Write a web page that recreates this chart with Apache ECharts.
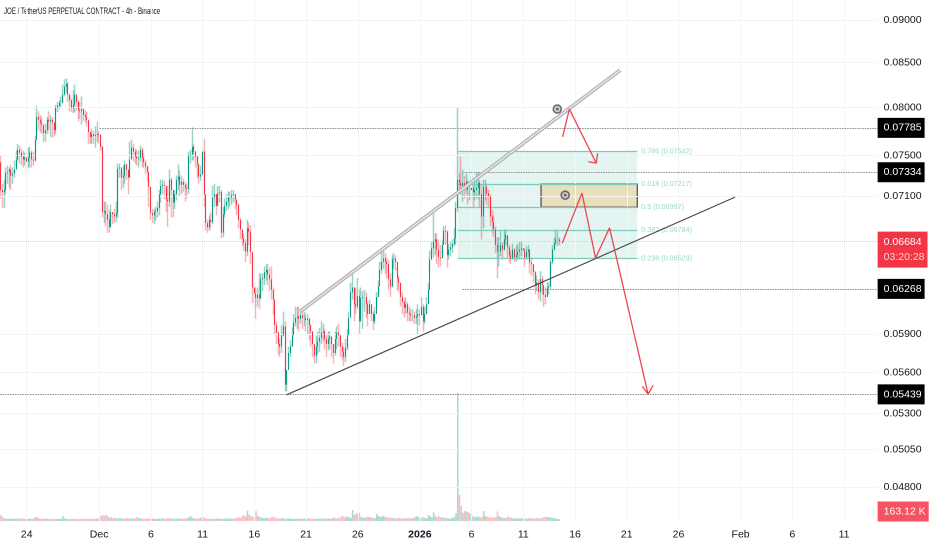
<!DOCTYPE html>
<html><head><meta charset="utf-8">
<style>html,body{margin:0;padding:0;background:#fff}#c{width:932px;height:550px}</style>
<script src="https://cdn.jsdelivr.net/npm/echarts@6/dist/echarts.min.js"></script>
</head><body><div id="c"></div>
<script>
const title = "JOE / TetherUS PERPETUAL CONTRACT - 4h - Binance";
const firstOpen = .0743;
const closes = [
.0716,.0714,.0716,.0733,.0734,.0736,.0730,.0732,.0736,.0746,
.0756,.0753,.0749,.0746,.0748,.0744,.0748,.0753,.0746,.0745,
.0766,.0790,.0787,.0784,.0782,.0773,.0776,.0787,.0785,.0787,
.0784,.0776,.0800,.0802,.0805,.0805,.0814,.0823,.0826,.0814,
.0808,.0800,.0803,.0814,.0806,.0798,.0796,.0798,.0792,.0790,
.0787,.0774,.0769,.0772,.0770,.0771,.0772,.0771,.0759,.0695,
.0696,.0693,.0688,.0681,.0695,.0693,.0691,.0694,.0737,.0738,
.0728,.0730,.0741,.0736,.0728,.0746,.0758,.0754,.0749,.0747,
.0748,.0756,.0748,.0743,.0739,.0734,.0719,.0694,.0692,.0695,
.0696,.0699,.0712,.0720,.0721,.0720,.0707,.0705,.0726,.0716,
.0704,.0712,.0726,.0729,.0721,.0724,.0721,.0718,.0717,.0750,
.0751,.0759,.0754,.0749,.0741,.0729,.0731,.0754,.0712,.0685,
.0681,.0688,.0686,.0709,.0712,.0701,.0713,.0714,.0676,.0693,
.0701,.0705,.0709,.0709,.0711,.0712,.0707,.0702,.0688,.0679,
.0671,.0667,.0659,.0680,.0677,.0659,.0628,.0623,.0619,.0622,
.0619,.0635,.0636,.0641,.0643,.0639,.0635,.0626,.0618,.0597,
.0591,.0582,.0580,.0589,.0596,.0551,.0562,.0575,.0580,.0589,
.0599,.0603,.0604,.0602,.0605,.0603,.0603,.0601,.0602,.0597,
.0592,.0582,.0573,.0580,.0584,.0587,.0591,.0592,.0586,.0582,
.0586,.0588,.0582,.0575,.0586,.0591,.0589,.0580,.0576,.0572,
.0579,.0589,.0603,.0624,.0628,.0614,.0612,.0621,.0600,.0619,
.0620,.0620,.0614,.0606,.0614,.0606,.0600,.0606,.0620,.0629,
.0643,.0650,.0653,.0650,.0648,.0635,.0629,.0652,.0653,.0650,
.0636,.0632,.0620,.0616,.0611,.0614,.0607,.0606,.0605,.0605,
.0603,.0604,.0606,.0605,.0612,.0600,.0606,.0614,.0626,.0652,
.0662,.0668,.0670,.0661,.0654,.0653,.0665,.0678,.0677,.0656,
.0661,.0663,.0666,.0671,.0699,.0726,.0723,.0720,.0723,.0718,
.0724,.0716,.0716,.0718,.0714,.0716,.0718,.0723,.0712,.0691,
.0719,.0719,.0713,.0710,.0691,.0686,.0679,.0665,.0659,.0659,
.0665,.0661,.0670,.0674,.0663,.0656,.0653,.0661,.0654,.0656,
.0659,.0661,.0662,.0660,.0654,.0659,.0661,.0649,.0648,.0641,
.0630,.0632,.0624,.0635,.0630,.0622,.0620,.0628,.0629,.0650,
.0661,.0667,.0670,.0670,.0668];
const highs = [
.0750,.0722,.0726,.0738,.0740,.0738,.0741,.0738,.0745,.0755,
.0762,.0760,.0757,.0755,.0753,.0752,.0758,.0759,.0755,.0754,
.0770,.0802,.0796,.0792,.0790,.0780,.0783,.0790,.0796,.0792,
.0790,.0782,.0803,.0806,.0808,.0812,.0825,.0831,.0832,.0828,
.0815,.0810,.0819,.0825,.0815,.0808,.0806,.0812,.0800,.0797,
.0795,.0785,.0775,.0778,.0775,.0780,.0785,.0775,.0772,.0760,
.0705,.0705,.0702,.0697,.0702,.0695,.0698,.0705,.0742,.0742,
.0735,.0740,.0745,.0742,.0734,.0764,.0766,.0762,.0757,.0756,
.0755,.0760,.0758,.0752,.0746,.0740,.0726,.0700,.0698,.0698,
.0700,.0705,.0716,.0726,.0726,.0725,.0718,.0720,.0736,.0728,
.0712,.0716,.0730,.0741,.0735,.0730,.0727,.0724,.0722,.0754,
.0756,.0779,.0762,.0755,.0750,.0742,.0740,.0758,.0767,.0712,
.0688,.0692,.0695,.0720,.0722,.0712,.0720,.0720,.0716,.0700,
.0708,.0712,.0715,.0714,.0716,.0716,.0712,.0706,.0703,.0690,
.0678,.0675,.0670,.0688,.0685,.0683,.0655,.0632,.0628,.0628,
.0640,.0640,.0640,.0646,.0648,.0648,.0645,.0646,.0628,.0612,
.0600,.0592,.0586,.0597,.0608,.0600,.0558,.0580,.0585,.0595,
.0606,.0612,.0612,.0612,.0610,.0610,.0608,.0606,.0606,.0603,
.0597,.0592,.0580,.0588,.0592,.0595,.0600,.0598,.0594,.0590,
.0592,.0592,.0588,.0582,.0592,.0596,.0598,.0588,.0583,.0580,
.0586,.0594,.0608,.0632,.0643,.0628,.0628,.0636,.0626,.0628,
.0625,.0626,.0624,.0616,.0618,.0614,.0608,.0612,.0624,.0634,
.0650,.0662,.0663,.0658,.0654,.0652,.0640,.0656,.0658,.0656,
.0645,.0638,.0632,.0624,.0618,.0620,.0616,.0612,.0610,.0610,
.0608,.0610,.0614,.0610,.0620,.0614,.0612,.0620,.0632,.0660,
.0668,.0694,.0676,.0675,.0670,.0665,.0670,.0682,.0683,.0678,
.0666,.0668,.0670,.0680,.0705,.0800,.0733,.0749,.0736,.0730,
.0732,.0726,.0723,.0730,.0722,.0728,.0733,.0734,.0725,.0722,
.0726,.0726,.0722,.0716,.0712,.0697,.0692,.0682,.0672,.0672,
.0678,.0668,.0679,.0679,.0672,.0665,.0660,.0666,.0662,.0664,
.0666,.0668,.0668,.0666,.0662,.0664,.0665,.0660,.0654,.0648,
.0642,.0638,.0635,.0642,.0638,.0630,.0628,.0632,.0633,.0652,
.0665,.0672,.0679,.0678,.0672];
const lows = [
.0708,.0699,.0699,.0712,.0722,.0718,.0716,.0722,.0728,.0738,
.0745,.0742,.0740,.0738,.0740,.0734,.0738,.0738,.0738,.0740,
.0744,.0770,.0776,.0774,.0772,.0764,.0764,.0772,.0776,.0769,
.0768,.0770,.0772,.0795,.0798,.0800,.0805,.0812,.0816,.0806,
.0796,.0795,.0794,.0795,.0796,.0785,.0788,.0782,.0786,.0784,
.0780,.0762,.0762,.0762,.0762,.0758,.0764,.0762,.0755,.0690,
.0685,.0682,.0676,.0676,.0688,.0684,.0685,.0686,.0690,.0728,
.0716,.0718,.0722,.0726,.0712,.0728,.0748,.0744,.0742,.0740,
.0738,.0744,.0738,.0738,.0732,.0725,.0700,.0688,.0685,.0684,
.0687,.0690,.0692,.0704,.0712,.0707,.0695,.0681,.0700,.0690,
.0690,.0698,.0706,.0716,.0710,.0712,.0714,.0705,.0708,.0712,
.0742,.0745,.0745,.0738,.0728,.0722,.0725,.0728,.0700,.0678,
.0676,.0678,.0680,.0684,.0700,.0692,.0700,.0704,.0671,.0672,
.0690,.0696,.0698,.0700,.0702,.0704,.0698,.0692,.0680,.0670,
.0664,.0660,.0650,.0655,.0665,.0648,.0615,.0612,.0602,.0612,
.0610,.0618,.0625,.0630,.0634,.0630,.0625,.0618,.0605,.0590,
.0582,.0574,.0572,.0575,.0588,.0546,.0546,.0565,.0572,.0580,
.0590,.0596,.0594,.0592,.0598,.0594,.0596,.0592,.0590,.0585,
.0580,.0572,.0567,.0567,.0574,.0576,.0582,.0584,.0578,.0572,
.0577,.0578,.0572,.0567,.0573,.0578,.0580,.0572,.0570,.0565,
.0568,.0577,.0590,.0612,.0618,.0600,.0606,.0610,.0590,.0606,
.0594,.0608,.0603,.0596,.0606,.0600,.0593,.0598,.0612,.0620,
.0636,.0640,.0644,.0640,.0636,.0626,.0620,.0628,.0644,.0642,
.0626,.0624,.0612,.0606,.0603,.0606,.0600,.0600,.0600,.0600,
.0598,.0598,.0589,.0597,.0605,.0592,.0598,.0606,.0622,.0640,
.0652,.0654,.0656,.0648,.0645,.0646,.0655,.0666,.0665,.0645,
.0652,.0655,.0658,.0664,.0665,.0695,.0712,.0712,.0705,.0708,
.0712,.0702,.0706,.0708,.0700,.0706,.0708,.0707,.0700,.0670,
.0680,.0706,.0702,.0700,.0682,.0676,.0672,.0658,.0636,.0646,
.0655,.0652,.0660,.0665,.0654,.0650,.0648,.0652,.0650,.0650,
.0652,.0652,.0655,.0650,.0646,.0652,.0654,.0640,.0638,.0632,
.0622,.0625,.0618,.0616,.0622,.0612,.0614,.0622,.0622,.0626,
.0648,.0660,.0665,.0664,.0665];
// volume in thousands
const volumes = [
480,320,200,180,160,180,200,170,180,160,
200,180,200,210,170,190,180,170,190,180,
320,300,240,190,180,170,200,180,170,150,
170,160,180,160,170,180,400,210,170,160,
170,180,170,160,160,150,170,180,160,170,
180,160,170,190,180,170,200,280,420,480,
400,500,380,300,280,240,260,220,200,240,
220,200,180,260,220,180,200,220,200,320,
240,220,200,180,170,200,180,200,190,170,
160,180,200,180,220,170,190,240,200,180,
200,170,180,200,220,180,170,200,240,300,
420,260,220,200,180,240,260,300,280,200,
180,160,200,180,170,190,200,180,160,170,
190,180,200,220,170,180,200,260,300,240,
380,480,360,820,500,420,360,320,800,420,
320,280,240,220,260,240,220,300,340,260,
200,220,180,240,200,180,200,220,180,170,
180,160,200,180,170,190,200,180,200,220,
180,170,200,180,170,190,180,200,170,240,
200,180,220,300,200,180,300,220,420,340,
300,360,300,240,880,500,620,560,660,300,
280,260,300,340,300,280,240,220,560,420,
320,360,420,340,300,280,260,240,220,200,
260,240,220,200,220,240,200,260,200,240,
300,400,340,220,260,300,240,220,480,360,
280,700,380,300,420,300,260,280,240,220,
200,220,260,300,620,10240,2080,1200,640,800,
760,720,640,400,380,320,340,360,300,320,
800,420,340,300,280,260,320,300,760,400,
300,280,240,220,360,300,260,240,220,200,
220,200,240,220,200,180,220,240,200,220,
200,240,220,200,260,320,300,340,300,280,
220,260,180,160,140];
const tickIndex  = [15,57,87,117,147,177,207,243,273,303,333,363,393,429,459,489];
const tickLabels = ["24","Dec","6","11","16","21","26","2026","6","11","16","21","26","Feb","6","11"];
const slotCount = 509;
const priceTicks = [.09,.085,.08,.075,.071,.059,.056,.053,.0505,.048];
const lastPrice = .06684;
const countdown = "03:20:28";
const levels = [[57.3,.07785],[268.2,.07334],[267.7,.06268],[-0.5,.05439]];
const fibLevels = [[.786,.07542],[.618,.07217],[.5,.06997],[.382,.06784],[.236,.06529]];
const fibRange = [265,369.1];
const zoneLeft = 313.3;
const channel = [[173.8,.06083],[359.2,.08414]];
const trendLine = [[165.7,.05436],[425.8,.07092]];
const arrowA = [[325.8,.07691],[329.7,.07984],[345.3,.07424]];
const arrowAHead = [[340.7,.07438],[345.3,.07424],[346.1,.07522]];
const arrowB = [[325.6,.06666],[337,.07131],[344.9,.06533],[353,.06805],[375.4,.05439]];
const arrowBHead = [[372,.05499],[375.4,.05439],[378.3,.05506]];
const eyeMarks = [[322.7,.07984],[327.3,.07111]];

const UP='#089981', DOWN='#f23645', FONT='"Liberation Sans",sans-serif';
const opens = closes.map((c,i)=> i? closes[i-1] : firstOpen);
const cats = Array.from({length:slotCount},(_,i)=>{const k=tickIndex.indexOf(i);return k<0?'':tickLabels[k];});
const gL=-0.75, gW=878.4;
const line=(data,color,width,z)=>({type:'line',xAxisIndex:1,yAxisIndex:0,data,symbol:'none',silent:true,animation:false,z:z||6,lineStyle:{color,width}});
const noMark={symbol:'none',silent:true,animation:false,precision:6};
const series=[
 {type:'line',xAxisIndex:1,yAxisIndex:0,data:[],symbol:'none',z:1,silent:true,animation:false,
  markLine:{...noMark,lineStyle:{color:'#f3f4f6',width:1,type:'solid'},
   label:{show:true,position:'end',distance:6,color:'#131722',fontFamily:FONT,fontSize:10.5,formatter:p=>p.value.toFixed(5)},
   data:priceTicks.map(v=>({yAxis:v}))}},
 {type:'line',xAxisIndex:1,yAxisIndex:0,data:[],symbol:'none',z:1,silent:true,animation:false,
  markLine:{...noMark,lineStyle:{color:'#f3f4f6',width:1,type:'solid'},label:{show:false},data:tickIndex.map(v=>({xAxis:v}))}},
 {type:'line',xAxisIndex:1,yAxisIndex:0,data:[],symbol:'none',z:2,silent:true,animation:false,
  markArea:{silent:true,animation:false,itemStyle:{color:'rgba(8,153,129,0.11)'},
   data:[[{xAxis:fibRange[0],yAxis:fibLevels[0][1]},{xAxis:fibRange[1],yAxis:fibLevels[4][1]}]]},
  markLine:{...noMark,lineStyle:{color:'#7ccbbb',width:1.3,type:'solid'},
   label:{show:true,position:'end',distance:4,color:'#9fd6cb',fontFamily:FONT,fontSize:7.2},
   data:fibLevels.map(f=>[{xAxis:fibRange[0],yAxis:f[1]},{xAxis:fibRange[1],yAxis:f[1],label:{formatter:f[0]+' ('+f[1].toFixed(5)+')'}}])}},
 {type:'line',xAxisIndex:1,yAxisIndex:0,data:[],symbol:'none',z:3,silent:true,animation:false,
  markLine:{...noMark,lineStyle:{color:'#8f8f8f',width:1,type:[1.5,1]},label:{show:false},
   data:levels.map(l=>[{xAxis:l[0],yAxis:l[1]},{xAxis:slotCount-0.5,yAxis:l[1]}])}},
 {type:'line',xAxisIndex:1,yAxisIndex:0,data:[],symbol:'none',z:3,silent:true,animation:false,
  markLine:{...noMark,lineStyle:{color:'#f9c0c4',width:1,type:'dotted'},label:{show:false},data:[{yAxis:lastPrice}]}},
 {type:'candlestick',xAxisIndex:0,yAxisIndex:0,z:4,barWidth:1.2,animation:false,silent:true,
  itemStyle:{color:'rgba(8,153,129,0.42)',color0:'rgba(242,54,69,0.38)',borderColor:'rgba(8,153,129,0.42)',borderColor0:'rgba(242,54,69,0.38)',borderWidth:1.5},
  data:closes.map((c,i)=>[opens[i],c,lows[i],highs[i]])},
 {type:'candlestick',xAxisIndex:0,yAxisIndex:0,z:5,barWidth:1.2,animation:false,silent:true,
  itemStyle:{color:UP,color0:DOWN,borderColor:UP,borderColor0:DOWN,borderWidth:1},
  data:closes.map((c,i)=>[opens[i],c,Math.min(opens[i],c),Math.max(opens[i],c)])},
 {type:'bar',xAxisIndex:2,yAxisIndex:1,barWidth:1.6,animation:false,silent:true,z:3,
  data:volumes.map((v,i)=>({value:v,itemStyle:{color:closes[i]>=opens[i]?'rgba(8,153,129,0.36)':'rgba(242,54,69,0.32)'}}))},
 {type:'line',xAxisIndex:1,yAxisIndex:0,data:[],symbol:'none',z:6,silent:true,animation:false,
  markArea:{silent:true,animation:false,itemStyle:{color:'#e9dfbc',borderColor:'#555',borderWidth:1.3},
   data:[[{xAxis:zoneLeft,yAxis:fibLevels[1][1]},{xAxis:fibRange[1],yAxis:fibLevels[2][1]}]]}},
 line(channel,'#b2b2b2',3.8,6), line(channel,'#e8e8e8',1.4,6),
 line(trendLine,'#4a4a4a',1.2,7),
 line(arrowA,'#f0444f',1.3,8), line(arrowAHead,'#f0444f',1.3,8),
 line(arrowB,'#f0444f',1.3,8), line(arrowBHead,'#f0444f',1.3,8),
 {type:'scatter',xAxisIndex:1,yAxisIndex:0,data:eyeMarks,symbol:'circle',symbolSize:8,z:9,silent:true,animation:false,
  itemStyle:{color:'#c8c8c8',borderColor:'#4a4a4a',borderWidth:1.6}},
 {type:'scatter',xAxisIndex:1,yAxisIndex:0,data:eyeMarks,symbol:'circle',symbolSize:3,z:10,silent:true,animation:false,
  itemStyle:{color:'#555'}},
 {type:'line',xAxisIndex:1,yAxisIndex:0,data:[],symbol:'none',z:11,silent:true,animation:false,
  markLine:{...noMark,lineStyle:{color:'transparent'},
   label:{show:true,position:'end',distance:0,color:'#fff',fontFamily:FONT,fontSize:10.5,backgroundColor:'#000',padding:[5,3,4,6],formatter:p=>p.value.toFixed(5)},
   data:levels.map(l=>({yAxis:l[1]})).concat([{yAxis:.06608,
     label:{formatter:'{a|'+lastPrice.toFixed(5)+'}\n{b|'+countdown+'}',backgroundColor:'#f23645',padding:[3,3,3,6],
       rich:{a:{color:'#fff',fontFamily:FONT,fontSize:10.5,lineHeight:15},b:{color:'#fbd0d4',fontFamily:FONT,fontSize:10.5,lineHeight:15}}}}])}},
 {type:'line',xAxisIndex:2,yAxisIndex:1,data:[],symbol:'none',z:11,silent:true,animation:false,
  markLine:{...noMark,lineStyle:{color:'transparent'},
   label:{show:true,position:'end',distance:0,color:'#fff',fontFamily:FONT,fontSize:10.5,backgroundColor:'#f7525f',padding:[5,3,4,6],formatter:'163.12 K'},
   data:[{yAxis:760}]}}
];
const chart=echarts.init(document.getElementById('c'),null,{devicePixelRatio:2});
chart.setOption({
 animation:false,backgroundColor:'#fff',
 graphic:[{type:'text',left:4,top:7,scaleX:.68,style:{text:title,fontFamily:FONT,fontSize:9,fill:'#131722'}}],
 grid:[{left:gL,top:0,width:gW,height:521},{left:gL,top:392,width:gW,height:129}],
 xAxis:[
  {type:'category',gridIndex:0,data:cats,boundaryGap:true,axisLine:{show:false},axisTick:{show:false},splitLine:{show:false},
   axisLabel:{show:true,interval:i=>cats[i]!=='',margin:8,color:'#131722',fontFamily:FONT,fontSize:10.5,hideOverlap:false,
     formatter:v=>v==='2026'?'{b|2026}':v,rich:{b:{fontWeight:'bold',fontFamily:FONT,fontSize:10.5,color:'#131722'}}}},
  {type:'value',gridIndex:0,min:-0.5,max:slotCount-0.5,show:false,splitLine:{show:false}},
  {type:'category',gridIndex:1,data:cats,show:false}
 ],
 yAxis:[
  {type:'log',gridIndex:0,min:.04587,max:.09246,show:false,splitLine:{show:false},scale:true},
  {type:'value',gridIndex:1,min:0,max:10320,show:false,splitLine:{show:false}}
 ],
 series
});
</script></body></html>
